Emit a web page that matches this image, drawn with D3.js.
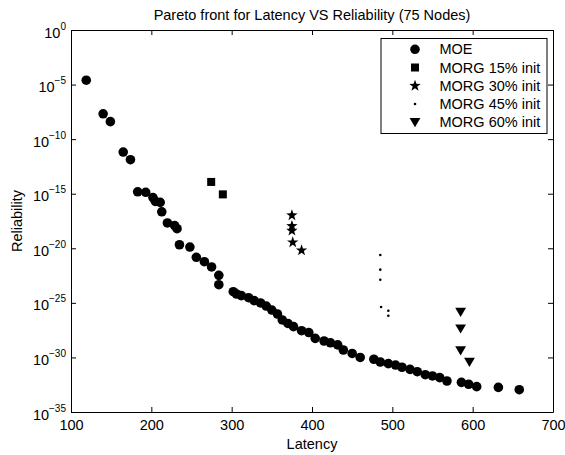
<!DOCTYPE html>
<html><head><meta charset="utf-8">
<script src="https://cdn.jsdelivr.net/npm/d3@7"></script>
<style>
body{margin:0;background:#fff;}
svg{display:block;font-family:"Liberation Sans",Arial,sans-serif;}
</style></head>
<body><svg id="c" width="565" height="455"></svg>
<script>
// ---- data ----
const moeLatency = [119,140,149,165,174,183,193,202,205,211,213,220,229,232,235,248,256,266,275,284,284,302,306,312,321,328,336,343,350,357,363,370,377,387,396,404,415,423,432,439,450,460,477,485,495,504,512,522,531,541,550,559,568,586,595,605,632,658];
const moeReliability = [2.5e-5,2.1e-8,4.0e-9,6.6e-12,1.3e-12,1.5e-15,1.35e-15,4.4e-16,2.0e-16,1.6e-16,2.2e-17,2.1e-18,1.2e-18,6.2e-19,2.1e-20,1.3e-20,1.5e-21,5.9e-22,1.95e-22,3.3e-23,4.6e-24,1.05e-24,6.5e-25,4.6e-25,2.95e-25,1.6e-25,9.8e-26,5.1e-26,2.2e-26,9.5e-27,2.7e-27,1.3e-27,6.6e-28,2.8e-28,1.9e-28,5.6e-29,3.2e-29,2.2e-29,1.4e-29,4.8e-30,2.3e-30,1.0e-30,6.8e-31,3.8e-31,2.7e-31,2.0e-31,1.26e-31,8.1e-32,4.9e-32,2.6e-32,2.0e-32,1.4e-32,6.9e-33,5.2e-33,3.5e-33,2.1e-33,1.8e-33,1.1e-33];
const morg15Latency = [274.5,289];
const morg15Reliability = [1.2e-14,8.7e-16];
const morg30Latency = [375,375,375,376,387];
const morg30Reliability = [1.05e-17,1.1e-18,4.1e-19,3.5e-20,6.5e-21];
const morg45Latency = [485,485,485,486,495,495];
const morg45Reliability = [2.4e-21,1.1e-22,1.3e-23,4.2e-26,1.9e-26,6.6e-27];
const morg60Latency = [585,585,585,596];
const morg60Reliability = [1.45e-26,4.3e-28,4.2e-30,3.8e-31];
const seriesNames = ["MOE","MORG 15% init","MORG 30% init","MORG 45% init","MORG 60% init"];
const xTicks = [100,200,300,400,500,600,700];
const yTickExponents = [0,-5,-10,-15,-20,-25,-30,-35];
const titleText = "Pareto front for Latency VS Reliability (75 Nodes)";
const xLabel = "Latency", yLabel = "Reliability";

// ---- layout ----
const L=71,R=553,T=30,B=412;
const svg = d3.select("#c");
const x = d3.scaleLinear([100,700],[L,R]);
const y = d3.scaleLog([1e-35,1],[B,T]);
const yTicks = yTickExponents.map(e=>Math.pow(10,e));

// markers
const starPath = (()=>{let p=[];for(let i=0;i<10;i++){const r=i%2?2.4:6;const a=-Math.PI/2+i*Math.PI/5;p.push([r*Math.cos(a),r*Math.sin(a)]);}return "M"+p.map(q=>q.join(",")).join("L")+"Z";})();
const triPath = "M-5.4,-4.3L5.4,-4.3L0,4.9Z";
const markers = [
  g=>g.append("circle").attr("r",4.8),
  g=>g.append("rect").attr("x",-4).attr("y",-4).attr("width",8).attr("height",8),
  g=>g.append("path").attr("d",starPath),
  g=>g.append("circle").attr("r",1.3),
  g=>g.append("path").attr("d",triPath)
];
const series = [
  [moeLatency,moeReliability],
  [morg15Latency,morg15Reliability],
  [morg30Latency,morg30Reliability],
  [morg45Latency,morg45Reliability],
  [morg60Latency,morg60Reliability]
];

// axes
const fs = "14.5px";
const gx = svg.append("g").attr("transform",`translate(0,${B})`)
  .call(d3.axisBottom(x).tickValues(xTicks).tickSizeInner(-5).tickSizeOuter(0).tickPadding(8));
const gxt = svg.append("g").attr("transform",`translate(0,${T})`)
  .call(d3.axisTop(x).tickValues(xTicks).tickSizeInner(-5).tickSizeOuter(0).tickFormat(""));
const gy = svg.append("g").attr("transform",`translate(${L},0)`)
  .call(d3.axisLeft(y).tickValues(yTicks).tickSizeInner(-5).tickSizeOuter(0).tickPadding(5).tickFormat(()=>"10"));
const gyr = svg.append("g").attr("transform",`translate(${R},0)`)
  .call(d3.axisRight(y).tickValues(yTicks).tickSizeInner(-5).tickSizeOuter(0).tickFormat(""));
[gx,gxt,gy,gyr].forEach(g=>{
  g.selectAll("path,line").attr("stroke","#000").attr("stroke-width",1);
  g.selectAll("text").attr("fill","#000").style("font-size",fs).style("font-family","'Liberation Sans',Arial,sans-serif");
});
gy.selectAll(".tick text").attr("dy",null).attr("y",7)
  .each(function(d){
    const e = Math.round(Math.log10(d));
    d3.select(this).append("tspan").attr("dy",-8).style("font-size","10px").text(e===0?"0":"\u2212"+(-e));
  });

// data points
series.forEach((s,i)=>{
  const g = svg.append("g").attr("fill","#000");
  s[0].forEach((lat,j)=>{
    const m = g.append("g").attr("transform",`translate(${x(lat)},${y(s[1][j])})`);
    markers[i](m);
  });
});

// title & labels
svg.append("text").attr("x",(L+R)/2).attr("y",20).attr("text-anchor","middle").style("font-size",fs).text(titleText);
svg.append("text").attr("x",(L+R)/2).attr("y",449).attr("text-anchor","middle").style("font-size",fs).text(xLabel);
svg.append("text").attr("transform",`translate(22,${(T+B)/2}) rotate(-90)`).attr("text-anchor","middle").style("font-size",fs).text(yLabel);

// legend
const lg = svg.append("g");
lg.append("rect").attr("x",381).attr("y",38.5).attr("width",166).attr("height",95).attr("fill","#fff").attr("stroke","#000").attr("stroke-width",1);
const rowsY = [49.3,67.5,85.8,104,122.3];
seriesNames.forEach((n,i)=>{
  const m = lg.append("g").attr("transform",`translate(415,${rowsY[i]})`).attr("fill","#000");
  markers[i](m);
  lg.append("text").attr("x",439.5).attr("y",rowsY[i]+5).style("font-size",fs).text(n);
});
</script>
</body></html>
